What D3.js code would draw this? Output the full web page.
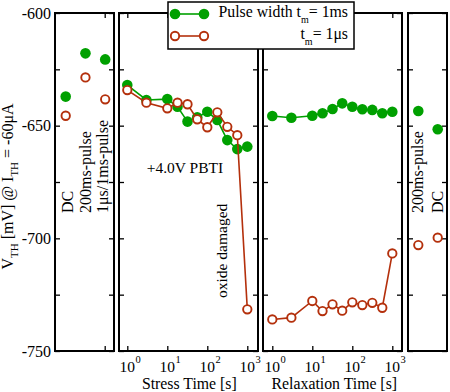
<!DOCTYPE html>
<html><head><meta charset="utf-8">
<script src="https://cdn.jsdelivr.net/npm/d3@7"></script>
<style>
body{margin:0;background:#fff}
svg{display:block}
text{font-family:"Liberation Serif","Times New Roman",serif;fill:#000}
</style>
</head><body>
<svg id="c" width="450" height="392"></svg>
<script>
// ---------------- data ----------------
const yTicks = [-600, -625, -650, -675, -700, -725, -750];
const yTickLabels = [-600, -650, -700, -750];

const leftCats = ["DC", "200ms-pulse", "1μs/1ms-pulse"];
const leftGreen = [-637.1, -617.9, -620.6];
const leftRed = [-645.6, -628.6, -638.3];

const stressTimes = [1, 3, 10, 18, 32, 56, 100, 178, 316, 562, 1000];
const stressGreen = [-632.0, -638.6, -638.2, -641.6, -648.2, -646.3, -643.8, -647.5, -656.4, -660.4, -659.3];
const stressRed = [-634.2, -639.8, -642.3, -639.8, -640.5, -647.2, -650.7, -644.1, -650.5, -654.2, -731.5];

const relaxTimes = [1, 3, 10, 18, 32, 56, 100, 178, 316, 562, 1000];
const relaxGreen = [-645.7, -646.5, -645.6, -644.5, -642.6, -640.1, -641.6, -642.7, -643.0, -644.5, -643.8];
const relaxRed = [-736.0, -735.2, -727.8, -732.3, -729.3, -732.1, -728.4, -729.6, -728.6, -730.8, -706.7];

const rightCats = ["200ms-pulse", "DC"];
const rightGreen = [-643.5, -651.6];
const rightRed = [-703.0, -699.7];

const xTickValues = [1, 10, 100, 1000];
const xTickExps = ["0", "1", "2", "3"];

const legendSeries = ["Pulse width t", "t"];
const legendValues = ["= 1ms", "= 1μs"];
const xTitles = ["Stress Time [s]", "Relaxation Time [s]"];

// ---------------- drawing ----------------
const GREEN = "#00a000", RED = "#b4300c";
const svg = d3.select("#c");
const y = d3.scaleLinear().domain([-750, -600]).range([351, 13]);

const xL = d3.scalePoint().domain(leftCats).range([65.7, 105.2]);
const xLlab = d3.scalePoint().domain(leftCats).range([73, 108]);
const xS = d3.scaleLog().domain([1, 1000]).range([127.3, 247.3]);
const xR = d3.scaleLog().domain([1, 1000]).range([272.3, 392.3]);
const xRt = d3.scalePoint().domain(rightCats).range([418.3, 437.7]);

const panels = [[55, 114], [119, 258], [263, 402], [408, 447]];
const yTop = y.range()[1], yBot = y.range()[0];

panels.forEach(([x0, x1]) => {
  const gl = svg.append("g").attr("transform", `translate(${x0},0)`)
    .call(d3.axisRight(y).tickValues(yTicks).tickSize(5).tickFormat(""));
  const gr = svg.append("g").attr("transform", `translate(${x1},0)`)
    .call(d3.axisLeft(y).tickValues(yTicks).tickSize(5).tickFormat(""));
  [gl, gr].forEach(g => { g.select(".domain").remove(); g.selectAll("line").attr("stroke", "#000").attr("stroke-width", 1.3); });
});

// x ticks for log panels
[xS, xR].forEach(sc => {
  const gb = svg.append("g").attr("transform", `translate(0,${yBot})`)
    .call(d3.axisTop(sc).tickValues(xTickValues).tickSize(5).tickFormat(""));
  const gt = svg.append("g").attr("transform", `translate(0,${yTop})`)
    .call(d3.axisBottom(sc).tickValues(xTickValues).tickSize(5).tickFormat(""));
  [gb, gt].forEach(g => { g.select(".domain").remove(); g.selectAll("line").attr("stroke", "#000").attr("stroke-width", 1.3); });
  // tick labels 10^n
  xTickValues.forEach((v, i) => {
    const t = svg.append("text").attr("x", sc(v) - 7.8).attr("y", 371.8).attr("font-size", 15.5);
    t.append("tspan").text("10");
    t.append("tspan").attr("dx", 0.6).attr("dy", -9).attr("font-size", 10.5).text(xTickExps[i]);
  });
});
// left panel bottom/top tick
[yBot, yTop].forEach((yy, k) => {
  const xx = xL(leftCats[2]);
  svg.append("line").attr("x1", xx).attr("x2", xx).attr("y1", yy).attr("y2", k === 0 ? yy - 5 : yy + 5)
    .attr("stroke", "#000").attr("stroke-width", 1.3);
});

// borders
panels.forEach(([x0, x1]) => {
  svg.append("rect").attr("x", x0).attr("y", yTop).attr("width", x1 - x0).attr("height", yBot - yTop)
    .attr("fill", "none").attr("stroke", "#000").attr("stroke-width", 2);
});

// y tick labels
yTickLabels.forEach(v => {
  svg.append("text").attr("x", 51).attr("y", y(v) + 5.5).attr("text-anchor", "end")
    .attr("font-size", 16).text(String(v));
});

// y title
const yt = svg.append("text").attr("transform", "translate(13,186.5) rotate(-90)")
  .attr("text-anchor", "middle").attr("font-size", 16);
yt.append("tspan").text("V");
yt.append("tspan").attr("font-size", 11).attr("dy", 4.5).text("TH");
yt.append("tspan").attr("dy", -4.5).text(" [mV] @ I");
yt.append("tspan").attr("font-size", 11).attr("dy", 4.5).text("TH");
yt.append("tspan").attr("dy", -4.5).text(" = -60μA");

// x titles
svg.append("text").attr("x", (xS(1) + xS(1000)) / 2 + 2).attr("y", 388.5).attr("text-anchor", "middle")
  .attr("font-size", 15.8).text(xTitles[0]);
svg.append("text").attr("x", (xR(1) + xR(1000)) / 2 + 2).attr("y", 388.5).attr("text-anchor", "middle")
  .attr("font-size", 15.8).text(xTitles[1]);

// annotations
svg.append("text").attr("x", 146.7).attr("y", 173).attr("font-size", 15.5).text("+4.0V PBTI");
svg.append("text").attr("transform", "translate(227,298) rotate(-90)").attr("font-size", 15.5).text("oxide damaged");

// category labels (rotated)
leftCats.forEach(c => {
  svg.append("text").attr("transform", `translate(${xLlab(c)},213) rotate(-90)`)
    .attr("font-size", 16).text(c);
});
rightCats.forEach(c => {
  svg.append("text").attr("transform", `translate(${xRt(c) + 5},213) rotate(-90)`)
    .attr("font-size", 16).text(c);
});

// series
const line = d3.line();
function drawSeries(xs, vals, sc, color, filled, connect) {
  const pts = vals.map((v, i) => [sc(xs[i]), y(v)]);
  if (connect) svg.append("path").attr("d", line(pts)).attr("fill", "none")
    .attr("stroke", color).attr("stroke-width", 1.6);
  svg.append("g").selectAll("circle").data(pts).join("circle")
    .attr("cx", d => d[0]).attr("cy", d => d[1])
    .attr("r", filled ? 5.3 : 4.2)
    .attr("fill", filled ? color : "#fff")
    .attr("stroke", color).attr("stroke-width", filled ? 0 : 1.9);
}
drawSeries(leftCats, leftGreen, xL, GREEN, true, false);
drawSeries(stressTimes, stressGreen, xS, GREEN, true, true);
drawSeries(relaxTimes, relaxGreen, xR, GREEN, true, true);
drawSeries(rightCats, rightGreen, xRt, GREEN, true, false);
drawSeries(leftCats, leftRed, xL, RED, false, false);
drawSeries(stressTimes, stressRed, xS, RED, false, true);
drawSeries(relaxTimes, relaxRed, xR, RED, false, true);
drawSeries(rightCats, rightRed, xRt, RED, false, false);

// legend
svg.append("rect").attr("x", 168).attr("y", 2).attr("width", 186).attr("height", 47)
  .attr("fill", "#fff").attr("stroke", "#000").attr("stroke-width", 1.5);
[[GREEN, true, 14, 17], [RED, false, 36, 39]].forEach(([col, filled, ly, ty], i) => {
  svg.append("line").attr("x1", 175).attr("x2", 204).attr("y1", ly).attr("y2", ly)
    .attr("stroke", col).attr("stroke-width", 1.6);
  [175, 204].forEach(cx => svg.append("circle").attr("cx", cx).attr("cy", ly)
    .attr("r", filled ? 5.3 : 4.2).attr("fill", filled ? col : "#fff")
    .attr("stroke", col).attr("stroke-width", filled ? 0 : 1.9));
  const t = svg.append("text").attr("x", 348).attr("y", ty).attr("text-anchor", "end").attr("font-size", 15.8);
  t.append("tspan").text(legendSeries[i]);
  t.append("tspan").attr("font-size", 10).attr("dy", 5.5).text("m");
  t.append("tspan").attr("dy", -5.5).text(legendValues[i]);
});
</script>
</body></html>
